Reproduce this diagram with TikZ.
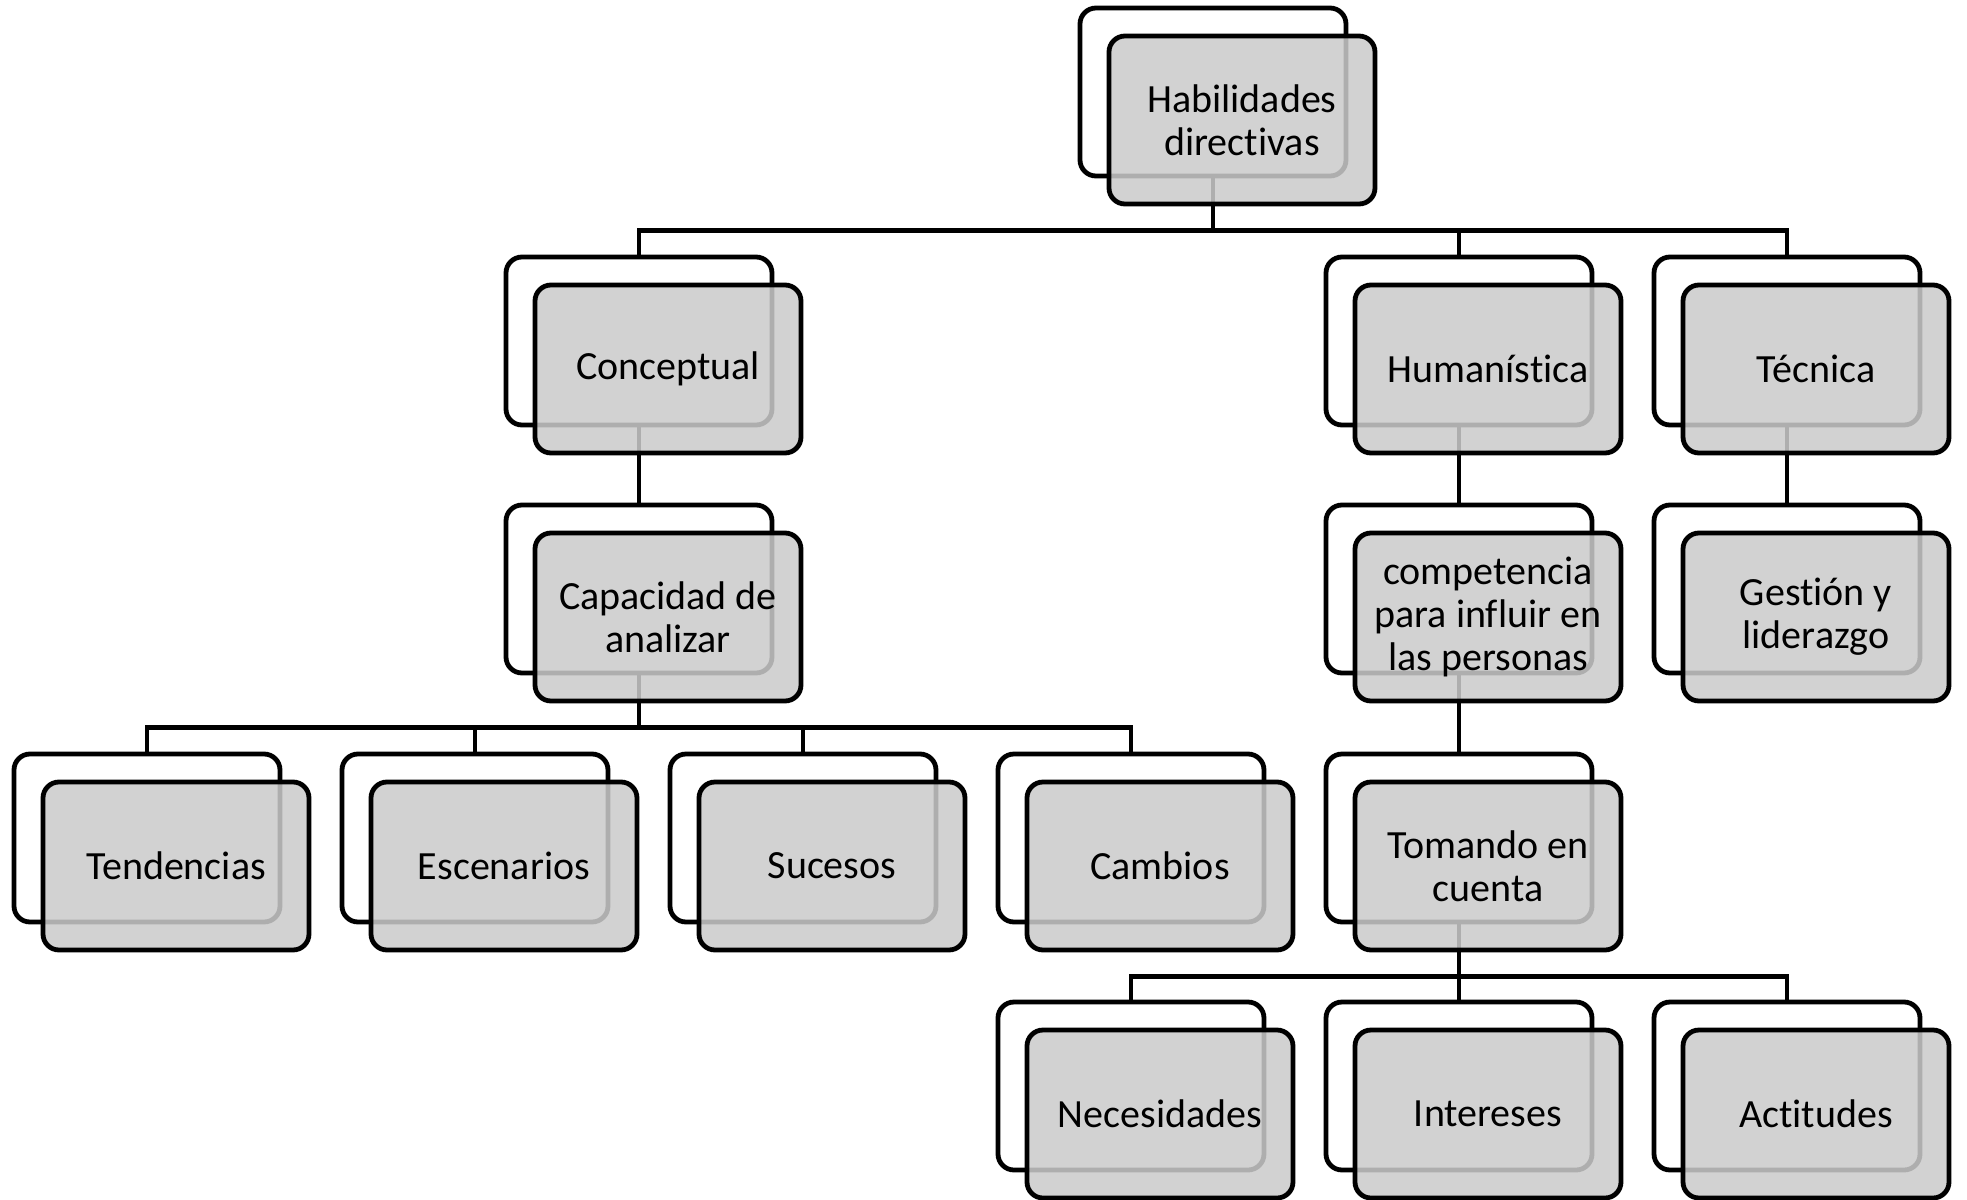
\documentclass[tikz,border=0pt]{standalone}
\usepackage{fontspec}
\setmainfont[Ligatures=NoCommon]{Carlito}
\usepackage{tikz}
\usetikzlibrary{positioning}

\definecolor{boxgray}{RGB}{203,203,203}

\begin{document}
\begin{tikzpicture}[x=0.5pt, y=-0.5pt,
  frame/.style={draw, line width=2.4pt, rounded corners=8pt, fill=white,
    minimum width=133pt, minimum height=84pt, inner sep=0pt},
  box/.style={frame, fill=boxgray, fill opacity=0.86, text opacity=1,
    xshift=14.5pt, yshift=-14pt, align=center,
    font=\fontsize{20}{21.5}\selectfont},
  link/.style={line width=2.4pt}]
\useasboundingbox (0,0) rectangle (1967,1200);

% back frames
\node[frame] (hab-b) at (1213,92) {};
\node[frame] (con-b) at (639,341) {};
\node[frame] (hum-b) at (1459,341) {};
\node[frame] (tec-b) at (1787,341) {};
\node[frame] (cap-b) at (639,589) {};
\node[frame] (comp-b) at (1459,589) {};
\node[frame] (gest-b) at (1787,589) {};
\node[frame] (ten-b) at (147,838) {};
\node[frame] (esc-b) at (475,838) {};
\node[frame] (suc-b) at (803,838) {};
\node[frame] (cam-b) at (1131,838) {};
\node[frame] (tom-b) at (1459,838) {};
\node[frame] (nec-b) at (1131,1086) {};
\node[frame] (int-b) at (1459,1086) {};
\node[frame] (act-b) at (1787,1086) {};

% connectors
\draw[link] (hab-b.south) -- ++(0,52) -| (con-b.north);
\draw[link] (hab-b.south) -- ++(0,52) -| (hum-b.north);
\draw[link] (hab-b.south) -- ++(0,52) -| (tec-b.north);
\draw[link] (con-b) -- (cap-b);
\draw[link] (hum-b) -- (comp-b);
\draw[link] (tec-b) -- (gest-b);
\draw[link] (comp-b) -- (tom-b);
\draw[link] (cap-b.south) -- ++(0,52) -| (ten-b.north);
\draw[link] (cap-b.south) -- ++(0,52) -| (esc-b.north);
\draw[link] (cap-b.south) -- ++(0,52) -| (suc-b.north);
\draw[link] (cap-b.south) -- ++(0,52) -| (cam-b.north);
\draw[link] (tom-b.south) -- ++(0,52) -| (nec-b.north);
\draw[link] (tom-b.south) -- ++(0,52) -| (int-b.north);
\draw[link] (tom-b.south) -- ++(0,52) -| (act-b.north);

% front boxes
\node[box] (hab) at (hab-b) {Habilidades\\directivas};
\node[box] (con) at (con-b) {Conceptual};
\node[box] (hum) at (hum-b) {Humanística};
\node[box] (tec) at (tec-b) {Técnica};
\node[box] (cap) at (cap-b) {Capacidad de\\analizar};
\node[box] (comp) at (comp-b) {competencia\\para influir en\\las personas};
\node[box] (gest) at (gest-b) {Gestión y\\liderazgo};
\node[box] (ten) at (ten-b) {Tendencias};
\node[box] (esc) at (esc-b) {Escenarios};
\node[box] (suc) at (suc-b) {Sucesos};
\node[box] (cam) at (cam-b) {Cambios};
\node[box] (tom) at (tom-b) {Tomando en\\cuenta};
\node[box] (nec) at (nec-b) {Necesidades};
\node[box] (int) at (int-b) {Intereses};
\node[box] (act) at (act-b) {Actitudes};
\end{tikzpicture}
\end{document}
